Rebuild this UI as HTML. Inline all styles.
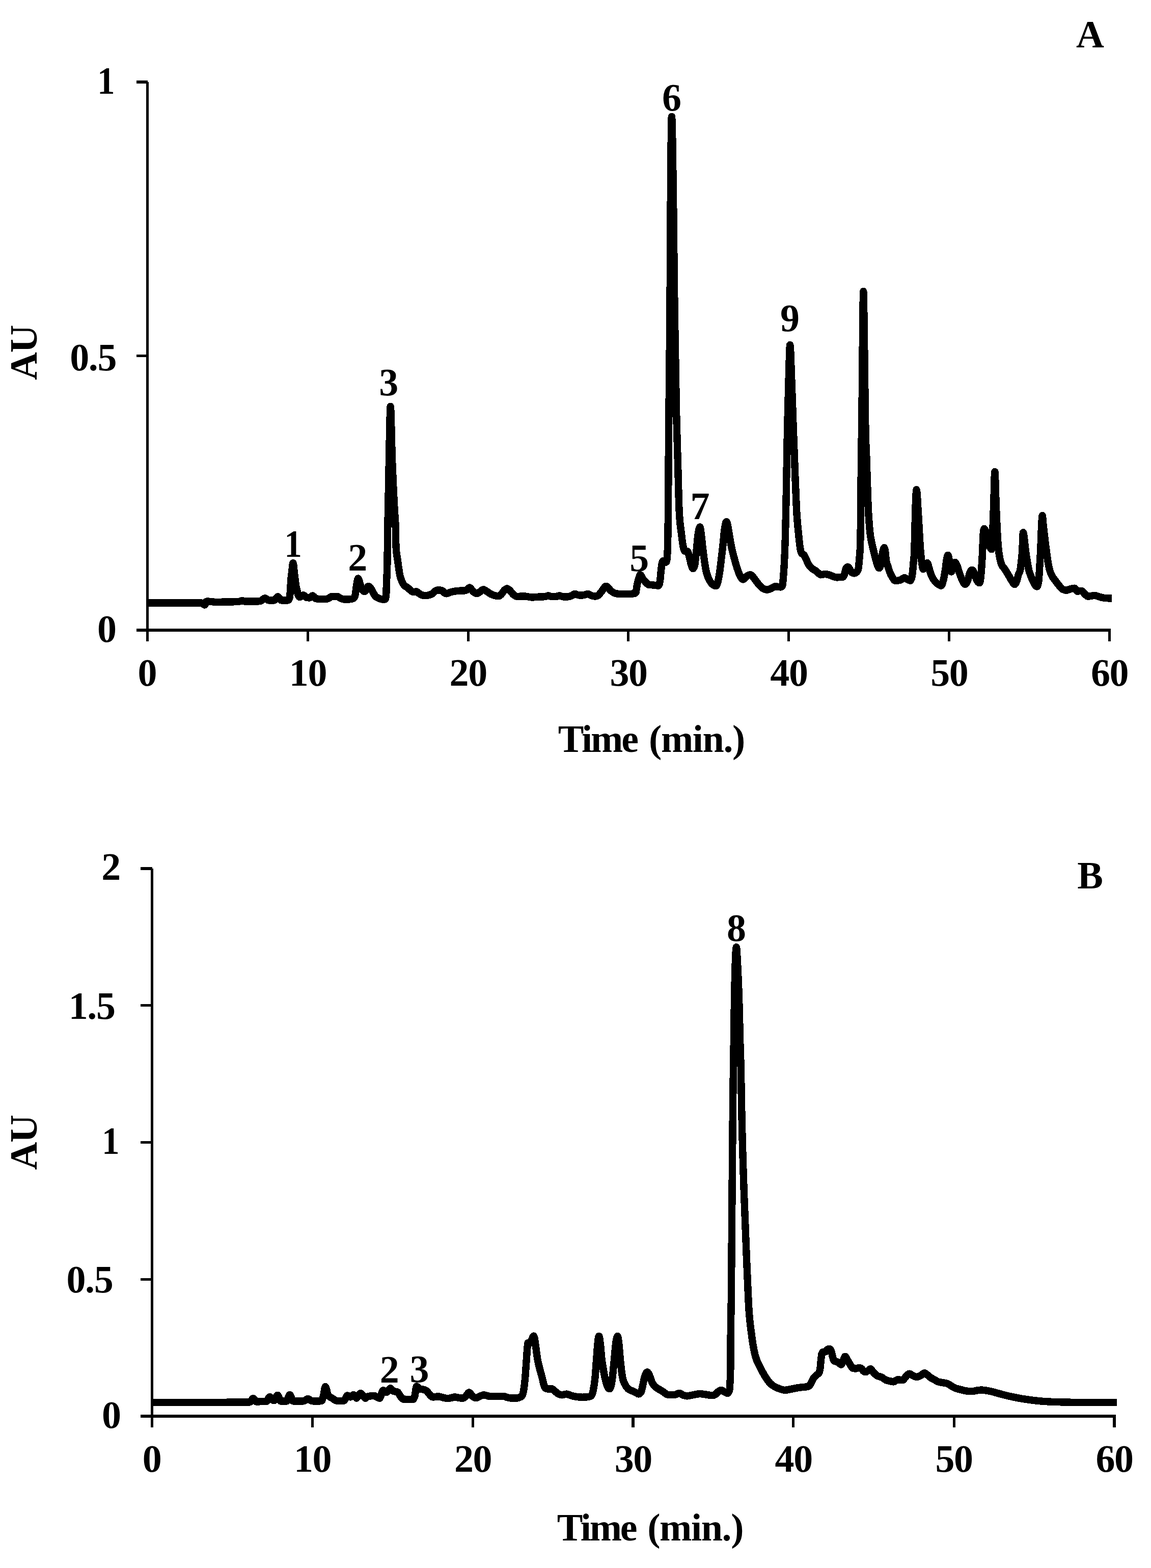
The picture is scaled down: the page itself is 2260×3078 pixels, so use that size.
<!DOCTYPE html>
<html lang="en">
<head>
<meta charset="utf-8">
<title>HPLC chromatograms A and B</title>
<style>
html,body{margin:0;padding:0;background:#fff;overflow:hidden;}
svg{display:block;}
text{font-family:"Liberation Serif",serif;font-weight:bold;font-size:76px;fill:#000;}
.ls{letter-spacing:-1.4px;}
.ax{fill:#000;stroke:none;shape-rendering:crispEdges;}
.cv{stroke:#000;fill:none;stroke-width:14.4;stroke-linejoin:round;stroke-linecap:butt;shape-rendering:crispEdges;}
</style>
</head>
<body>
<svg width="2260" height="3078" viewBox="0 0 2260 3078">
<rect x="0" y="0" width="2260" height="3078" fill="#fff"/>
<g id="chartA">
<rect class="ax" x="287" y="161" width="5" height="1098"/>
<rect class="ax" x="268" y="1234" width="1913" height="6"/>
<rect class="ax" x="602" y="1234" width="5" height="25"/>
<rect class="ax" x="917" y="1234" width="5" height="25"/>
<rect class="ax" x="1231" y="1234" width="5" height="25"/>
<rect class="ax" x="1546" y="1234" width="5" height="25"/>
<rect class="ax" x="1861" y="1234" width="5" height="25"/>
<rect class="ax" x="2176" y="1234" width="5" height="25"/>
<rect class="ax" x="268" y="158" width="22" height="6"/>
<rect class="ax" x="268" y="696" width="20" height="5"/>
<rect class="ax" x="268" y="1234" width="20" height="6"/>
<path class="cv" d="M290.0 1183.5C325.3 1183.5 360.7 1183.5 396.0 1183.5C397.0 1183.5 398.0 1183.8 399.0 1184.5C399.9 1185.1 400.9 1187.5 401.8 1187.5C403.0 1187.5 404.3 1180.6 405.5 1180.6C408.0 1180.6 410.5 1180.7 413.0 1180.8C416.5 1181.0 420.1 1181.9 423.6 1181.9C430.7 1181.9 437.9 1181.6 445.0 1181.5C452.3 1181.4 459.7 1181.4 467.0 1181.1C467.8 1181.1 468.7 1180.9 469.5 1180.8C471.4 1180.5 473.3 1179.1 475.2 1179.1C477.1 1179.1 479.1 1180.6 481.0 1180.6C485.7 1180.6 490.3 1180.3 495.0 1180.3C499.3 1180.3 503.7 1180.3 508.0 1180.3C509.5 1180.3 511.0 1180.0 512.5 1179.5C515.1 1178.6 517.6 1174.3 520.2 1174.3C522.6 1174.3 525.1 1178.2 527.5 1178.3C530.7 1178.4 533.8 1178.5 537.0 1178.5C537.8 1178.5 538.7 1178.3 539.5 1178.0C541.5 1177.2 543.6 1171.1 545.6 1171.1C547.7 1171.1 549.9 1178.2 552.0 1178.3C554.2 1178.4 556.5 1178.5 558.7 1178.5C560.8 1178.5 562.9 1178.5 565.0 1178.5C566.0 1178.5 567.0 1177.3 568.0 1175.0C568.7 1173.4 569.3 1169.9 570.0 1160.0C570.3 1155.5 570.6 1148.3 570.9 1143.6C571.6 1132.0 572.4 1128.1 573.1 1121.8C573.9 1115.2 574.6 1105.3 575.4 1105.3C576.4 1105.3 577.5 1121.3 578.5 1129.1C579.5 1136.4 580.4 1145.4 581.4 1150.9C582.1 1154.7 582.7 1156.8 583.4 1159.6C584.1 1162.5 584.8 1166.1 585.5 1168.0C586.5 1170.7 587.5 1172.0 588.5 1172.0C590.9 1172.0 593.2 1168.2 595.6 1168.2C597.9 1168.2 600.2 1172.7 602.5 1173.0C604.3 1173.3 606.2 1173.4 608.0 1173.4C609.9 1173.4 611.9 1169.4 613.8 1169.4C615.9 1169.4 617.9 1174.5 620.0 1175.0C621.8 1175.5 623.6 1175.7 625.4 1175.7C630.7 1175.7 636.1 1175.7 641.4 1175.7C642.9 1175.7 644.5 1174.7 646.0 1174.0C647.8 1173.1 649.7 1170.8 651.5 1170.8C654.9 1170.8 658.3 1170.8 661.7 1170.8C663.8 1170.8 665.9 1173.1 668.0 1174.0C670.0 1174.9 672.0 1176.1 674.0 1176.3C676.2 1176.5 678.4 1176.6 680.6 1176.6C683.7 1176.6 686.9 1176.4 690.0 1176.0C691.5 1175.8 693.0 1175.3 694.5 1174.0C695.4 1173.2 696.4 1172.1 697.3 1168.3C698.2 1164.6 699.1 1155.2 700.0 1150.0C701.0 1144.0 702.1 1135.5 703.1 1135.5C703.9 1135.5 704.7 1138.6 705.5 1141.0C706.2 1143.0 706.8 1145.9 707.5 1148.0C708.7 1151.6 709.8 1154.4 711.0 1156.5C712.7 1159.6 714.5 1161.1 716.2 1161.1C717.3 1161.1 718.4 1157.6 719.5 1156.0C720.8 1154.1 722.1 1150.8 723.4 1150.8C724.6 1150.8 725.8 1152.1 727.0 1153.5C728.0 1154.7 729.0 1156.5 730.0 1158.1C732.2 1161.6 734.3 1166.9 736.5 1169.7C739.2 1173.1 741.8 1173.6 744.5 1174.8C747.4 1176.1 750.3 1176.8 753.2 1176.8C754.3 1176.8 755.4 1176.5 756.5 1176.0C757.1 1175.7 757.7 1172.3 758.3 1165.0C758.5 1162.1 758.8 1150.6 759.0 1143.6C759.5 1128.6 760.0 1129.1 760.5 1100.0C760.7 1090.3 760.8 1073.3 761.0 1060.0C761.1 1052.0 761.2 1043.0 761.3 1036.0C761.6 1017.2 761.8 1012.6 762.1 1000.0C762.7 970.1 763.4 929.5 764.0 900.0C764.9 858.1 765.8 797.7 766.7 797.7C767.8 797.7 768.9 870.2 770.0 900.0C771.5 941.6 773.1 971.5 774.6 1000.0C775.3 1013.0 776.0 1012.0 776.7 1036.0C777.0 1045.1 777.2 1068.2 777.5 1072.6C778.6 1090.9 779.7 1091.7 780.8 1100.0C782.3 1111.1 783.7 1122.0 785.2 1129.1C786.9 1137.4 788.6 1140.0 790.3 1143.6C792.0 1147.2 793.7 1149.4 795.4 1150.8C796.5 1151.7 797.6 1151.6 798.7 1152.3C800.6 1153.5 802.6 1155.9 804.5 1157.4C806.9 1159.3 809.4 1162.2 811.8 1162.2C813.7 1162.2 815.7 1161.3 817.6 1161.3C820.0 1161.3 822.5 1165.2 824.9 1166.5C828.3 1168.3 831.6 1169.3 835.0 1169.3C837.9 1169.3 840.9 1168.6 843.8 1167.6C845.5 1167.0 847.3 1166.6 849.0 1165.5C851.1 1164.1 853.3 1160.3 855.4 1159.5C857.6 1158.7 859.8 1158.3 862.0 1158.3C864.2 1158.3 866.3 1158.7 868.5 1159.5C870.0 1160.1 871.5 1163.0 873.0 1164.0C874.0 1164.7 875.0 1165.4 876.0 1165.4C878.8 1165.4 881.6 1163.3 884.4 1162.5C890.7 1160.7 897.0 1160.0 903.3 1159.6C906.5 1159.4 909.8 1159.5 913.0 1159.3C914.2 1159.2 915.3 1158.6 916.5 1158.0C918.4 1157.0 920.3 1153.4 922.2 1153.4C924.1 1153.4 926.1 1158.1 928.0 1160.0C929.3 1161.3 930.7 1162.7 932.0 1163.5C933.6 1164.5 935.1 1165.1 936.7 1165.1C938.5 1165.1 940.2 1163.1 942.0 1162.0C944.4 1160.5 946.7 1157.3 949.1 1157.3C951.4 1157.3 953.7 1159.6 956.0 1161.0C958.8 1162.6 961.5 1165.0 964.3 1166.4C966.5 1167.5 968.8 1168.4 971.0 1169.0C973.6 1169.8 976.3 1170.3 978.9 1170.3C980.6 1170.3 982.3 1168.6 984.0 1167.0C986.0 1165.1 988.0 1161.0 990.0 1159.0C991.9 1157.2 993.7 1155.4 995.6 1155.4C997.4 1155.4 999.2 1157.4 1001.0 1159.0C1003.3 1161.0 1005.7 1165.0 1008.0 1167.0C1010.4 1169.0 1012.8 1170.8 1015.2 1170.8C1020.1 1170.8 1025.1 1170.5 1030.0 1170.5C1034.9 1170.5 1039.8 1172.5 1044.7 1172.5C1049.8 1172.5 1054.9 1171.7 1060.0 1171.5C1063.3 1171.4 1066.7 1171.4 1070.0 1171.2C1072.2 1171.1 1074.5 1169.4 1076.7 1169.4C1078.5 1169.4 1080.2 1170.8 1082.0 1171.0C1083.6 1171.2 1085.2 1171.3 1086.8 1171.3C1088.5 1171.3 1090.3 1171.2 1092.0 1171.0C1094.2 1170.8 1096.3 1169.4 1098.5 1169.4C1100.7 1169.4 1102.8 1171.1 1105.0 1171.3C1107.7 1171.5 1110.3 1171.6 1113.0 1171.6C1115.7 1171.6 1118.3 1170.9 1121.0 1170.0C1123.7 1169.1 1126.3 1166.0 1129.0 1166.0C1131.0 1166.0 1133.0 1167.6 1135.0 1168.0C1136.9 1168.4 1138.7 1168.6 1140.6 1168.6C1142.7 1168.6 1144.9 1168.4 1147.0 1168.0C1149.2 1167.6 1151.5 1166.0 1153.7 1166.0C1156.1 1166.0 1158.6 1168.2 1161.0 1169.0C1163.4 1169.7 1165.8 1170.5 1168.2 1170.5C1169.6 1170.5 1171.1 1170.3 1172.5 1170.0C1175.4 1169.3 1178.4 1164.2 1181.3 1161.0C1184.2 1157.8 1187.1 1150.8 1190.0 1150.8C1193.4 1150.8 1196.8 1157.8 1200.2 1160.3C1202.6 1162.0 1205.0 1163.7 1207.4 1164.5C1209.9 1165.4 1212.5 1165.8 1215.0 1165.8C1222.7 1165.8 1230.3 1165.8 1238.0 1165.8C1239.7 1165.8 1241.3 1165.7 1243.0 1165.5C1244.7 1165.3 1246.4 1165.0 1248.1 1163.9C1249.1 1163.3 1250.0 1152.5 1251.0 1147.9C1252.5 1140.9 1253.9 1136.4 1255.4 1132.0C1255.8 1130.7 1256.3 1128.3 1256.7 1128.3C1258.7 1128.3 1260.7 1134.2 1262.7 1136.8C1264.5 1139.1 1266.2 1141.2 1268.0 1143.0C1269.9 1144.9 1271.7 1147.4 1273.6 1147.7C1276.7 1148.2 1279.9 1148.2 1283.0 1148.5C1286.3 1148.8 1289.7 1149.6 1293.0 1149.6C1294.0 1149.6 1295.0 1146.4 1296.0 1140.0C1296.7 1135.7 1297.3 1125.8 1298.0 1120.0C1298.7 1114.2 1299.3 1107.1 1300.0 1105.0C1300.8 1102.3 1301.7 1101.0 1302.5 1101.0C1303.7 1101.0 1304.8 1104.0 1306.0 1104.0C1306.8 1104.0 1307.7 1103.7 1308.5 1103.0C1309.2 1102.5 1309.8 1097.0 1310.5 1085.0C1311.0 1076.0 1311.5 1056.7 1312.0 1000.0C1312.2 977.3 1312.4 937.9 1312.6 910.0C1312.8 877.5 1313.1 847.7 1313.3 821.0C1313.7 775.2 1314.1 750.8 1314.5 710.0C1314.8 676.0 1315.2 645.1 1315.5 600.0C1315.9 541.3 1316.4 438.1 1316.8 381.0C1317.5 288.8 1318.2 229.0 1318.9 229.0C1319.9 229.0 1321.0 308.3 1322.0 381.0C1322.8 439.7 1323.7 541.1 1324.5 600.0C1325.1 644.8 1325.8 674.1 1326.4 710.0C1327.1 747.8 1327.7 790.2 1328.4 821.0C1329.3 861.1 1330.1 879.6 1331.0 910.0C1331.8 939.3 1332.7 982.2 1333.5 1000.0C1335.0 1032.0 1336.5 1034.9 1338.0 1048.0C1339.1 1057.9 1340.3 1066.9 1341.4 1072.6C1342.6 1078.6 1343.8 1081.9 1345.0 1082.0C1346.6 1082.2 1348.3 1082.1 1349.9 1082.3C1351.3 1082.5 1352.6 1089.8 1354.0 1095.0C1355.0 1098.8 1356.0 1104.6 1357.0 1108.0C1358.3 1112.3 1359.5 1116.2 1360.8 1116.2C1361.9 1116.2 1362.9 1114.1 1364.0 1110.0C1365.0 1106.1 1366.0 1094.1 1367.0 1085.0C1368.2 1074.4 1369.3 1058.4 1370.5 1050.0C1371.8 1040.7 1373.1 1034.4 1374.4 1034.4C1375.3 1034.4 1376.1 1043.5 1377.0 1050.0C1377.8 1056.3 1378.7 1065.5 1379.5 1072.6C1380.7 1082.6 1381.8 1091.9 1383.0 1100.0C1384.2 1108.1 1385.3 1115.5 1386.5 1121.0C1388.0 1128.1 1389.5 1131.3 1391.0 1135.0C1393.0 1140.0 1395.0 1142.7 1397.0 1145.0C1399.9 1148.4 1402.8 1150.1 1405.7 1150.1C1407.1 1150.1 1408.6 1146.0 1410.0 1140.0C1411.1 1135.3 1412.3 1129.0 1413.4 1121.0C1414.4 1113.7 1415.5 1103.6 1416.5 1095.0C1417.4 1087.5 1418.3 1080.7 1419.2 1072.6C1420.3 1062.7 1421.4 1047.9 1422.5 1040.0C1423.8 1030.9 1425.0 1024.2 1426.3 1024.2C1427.2 1024.2 1428.1 1028.1 1429.0 1032.0C1429.9 1036.1 1430.9 1043.0 1431.8 1048.4C1433.2 1056.5 1434.6 1065.5 1436.0 1072.6C1438.0 1082.7 1440.0 1089.5 1442.0 1096.9C1444.4 1105.9 1446.9 1114.4 1449.3 1121.0C1450.9 1125.3 1452.4 1129.3 1454.0 1132.0C1455.7 1134.9 1457.3 1137.5 1459.0 1137.5C1461.0 1137.5 1463.0 1133.4 1465.0 1132.0C1467.8 1130.0 1470.6 1128.3 1473.4 1128.3C1476.8 1128.3 1480.2 1135.2 1483.6 1139.2C1486.5 1142.6 1489.4 1147.2 1492.3 1150.1C1495.2 1153.0 1498.1 1155.6 1501.0 1156.6C1502.9 1157.3 1504.9 1157.6 1506.8 1157.6C1509.2 1157.6 1511.7 1156.2 1514.1 1155.2C1516.5 1154.2 1519.0 1151.5 1521.4 1151.5C1523.3 1151.5 1525.3 1151.6 1527.2 1151.8C1529.1 1152.0 1531.1 1152.4 1533.0 1152.4C1534.1 1152.4 1535.2 1151.6 1536.3 1150.0C1536.9 1149.1 1537.5 1140.0 1538.1 1132.6C1538.7 1124.8 1539.4 1116.7 1540.0 1103.6C1540.6 1091.8 1541.1 1078.9 1541.7 1060.0C1542.2 1043.4 1542.7 1023.5 1543.2 1000.0C1543.8 971.8 1544.4 933.0 1545.0 900.0C1545.4 879.9 1545.7 858.0 1546.1 840.0C1546.9 800.6 1547.7 776.0 1548.5 750.0C1549.4 720.7 1550.3 677.2 1551.2 677.2C1552.3 677.2 1553.4 722.3 1554.5 750.0C1555.6 776.8 1556.6 811.3 1557.7 840.0C1558.5 860.7 1559.2 880.3 1560.0 900.0C1561.3 934.3 1562.7 975.3 1564.0 1000.0C1565.3 1024.7 1566.7 1034.7 1568.0 1048.4C1569.0 1058.7 1570.0 1068.7 1571.0 1075.0C1572.0 1081.3 1573.0 1084.5 1574.0 1086.0C1575.6 1088.4 1577.2 1087.3 1578.8 1089.6C1580.2 1091.6 1581.6 1095.0 1583.0 1098.0C1584.3 1100.8 1585.7 1104.5 1587.0 1107.0C1588.7 1110.1 1590.3 1111.9 1592.0 1113.8C1595.3 1117.5 1598.5 1118.0 1601.8 1120.6C1603.5 1122.0 1605.3 1123.6 1607.0 1125.0C1608.5 1126.2 1610.0 1128.3 1611.5 1128.3C1614.3 1128.3 1617.2 1127.0 1620.0 1127.0C1623.7 1127.0 1627.3 1128.2 1631.0 1129.5C1633.0 1130.2 1635.0 1131.3 1637.0 1132.0C1639.0 1132.7 1641.0 1133.4 1643.0 1133.4C1647.0 1133.4 1651.0 1133.2 1655.0 1132.7C1656.0 1132.6 1657.0 1130.8 1658.0 1128.0C1659.0 1125.2 1660.0 1117.8 1661.0 1116.0C1662.3 1113.7 1663.5 1112.6 1664.8 1112.6C1666.2 1112.6 1667.6 1116.0 1669.0 1118.0C1670.3 1119.9 1671.7 1123.0 1673.0 1124.0C1674.3 1124.9 1675.6 1125.4 1676.9 1125.4C1678.6 1125.4 1680.3 1124.6 1682.0 1123.0C1683.1 1121.9 1684.3 1120.7 1685.4 1116.0C1686.1 1113.1 1686.8 1104.0 1687.5 1095.0C1688.0 1088.6 1688.5 1087.5 1689.0 1072.6C1689.4 1060.7 1689.8 1039.7 1690.2 1000.0C1690.5 973.5 1690.7 925.4 1691.0 900.0C1691.4 865.0 1691.7 867.3 1692.1 840.0C1692.6 805.2 1693.0 740.8 1693.5 700.0C1694.1 647.6 1694.7 571.9 1695.3 571.9C1696.0 571.9 1696.8 651.2 1697.5 700.0C1698.1 742.1 1698.8 806.9 1699.4 840.0C1700.1 876.6 1700.8 879.5 1701.5 900.0C1702.5 929.3 1703.5 967.5 1704.5 990.8C1705.7 1019.5 1707.0 1032.5 1708.2 1045.0C1709.3 1056.1 1710.4 1059.2 1711.5 1065.0C1712.8 1071.8 1714.1 1076.2 1715.4 1081.6C1716.9 1087.9 1718.5 1094.9 1720.0 1100.0C1722.1 1107.0 1724.2 1115.2 1726.3 1115.2C1727.5 1115.2 1728.8 1111.1 1730.0 1105.0C1731.0 1100.1 1732.0 1089.9 1733.0 1085.0C1734.1 1079.6 1735.2 1075.2 1736.3 1075.2C1737.0 1075.2 1737.8 1079.4 1738.5 1085.0C1739.0 1088.8 1739.5 1096.2 1740.0 1099.7C1741.2 1107.9 1742.3 1108.1 1743.5 1112.0C1744.7 1116.1 1746.0 1120.2 1747.2 1123.4C1748.8 1127.6 1750.4 1130.4 1752.0 1133.0C1754.0 1136.3 1756.0 1140.0 1758.0 1140.0C1761.1 1140.0 1764.1 1139.6 1767.2 1138.8C1768.8 1138.4 1770.4 1136.8 1772.0 1136.0C1773.4 1135.3 1774.9 1134.2 1776.3 1134.2C1777.9 1134.2 1779.4 1136.2 1781.0 1137.0C1783.1 1138.1 1785.1 1139.7 1787.2 1139.7C1788.5 1139.7 1789.7 1136.5 1791.0 1130.0C1791.8 1125.7 1792.7 1114.8 1793.5 1105.0C1794.1 1098.0 1794.7 1097.2 1795.3 1081.6C1795.9 1066.0 1796.5 1027.9 1797.1 1009.0C1797.9 983.7 1798.7 961.2 1799.5 961.2C1800.7 961.2 1801.9 991.3 1803.1 1009.0C1804.6 1030.6 1806.0 1064.1 1807.5 1081.6C1808.3 1091.6 1809.2 1099.1 1810.0 1105.0C1810.9 1111.2 1811.7 1117.4 1812.6 1117.4C1813.7 1117.4 1814.9 1111.9 1816.0 1110.0C1817.6 1107.3 1819.2 1105.2 1820.8 1105.2C1821.9 1105.2 1822.9 1110.6 1824.0 1114.0C1825.0 1117.3 1826.1 1122.1 1827.1 1125.2C1828.4 1129.1 1829.7 1131.5 1831.0 1134.0C1832.4 1136.7 1833.9 1138.8 1835.3 1140.6C1837.2 1143.0 1839.1 1144.6 1841.0 1146.0C1843.3 1147.8 1845.7 1149.7 1848.0 1149.7C1849.3 1149.7 1850.7 1145.1 1852.0 1140.0C1853.4 1134.7 1854.8 1127.5 1856.2 1117.9C1857.0 1112.6 1857.7 1104.6 1858.5 1100.0C1859.4 1094.7 1860.3 1089.8 1861.2 1089.8C1862.1 1089.8 1863.1 1094.5 1864.0 1100.0C1864.7 1103.9 1865.3 1111.3 1866.0 1115.0C1866.7 1118.7 1867.3 1122.4 1868.0 1122.4C1869.0 1122.4 1870.0 1114.8 1871.0 1112.0C1872.4 1108.0 1873.8 1103.9 1875.2 1103.9C1876.5 1103.9 1877.7 1107.1 1879.0 1110.0C1880.5 1113.3 1881.9 1119.2 1883.4 1123.4C1885.3 1128.7 1887.1 1134.2 1889.0 1138.0C1891.1 1142.3 1893.1 1147.0 1895.2 1147.0C1896.8 1147.0 1898.4 1144.3 1900.0 1140.0C1901.3 1136.4 1902.7 1128.4 1904.0 1125.0C1905.6 1120.9 1907.2 1118.8 1908.8 1118.8C1910.5 1118.8 1912.3 1124.0 1914.0 1128.0C1915.3 1131.1 1916.7 1136.4 1918.0 1139.0C1919.8 1142.5 1921.6 1144.2 1923.4 1144.2C1924.4 1144.2 1925.5 1136.9 1926.5 1125.0C1927.4 1114.7 1928.3 1101.1 1929.2 1081.6C1929.6 1072.2 1930.1 1055.5 1930.5 1050.0C1931.1 1042.0 1931.8 1038.0 1932.4 1038.0C1933.6 1038.0 1934.8 1041.6 1936.0 1045.0C1937.3 1048.7 1938.7 1055.0 1940.0 1060.0C1941.2 1064.4 1942.3 1070.0 1943.5 1073.0C1944.7 1076.0 1945.8 1078.3 1947.0 1078.3C1947.7 1078.3 1948.3 1064.0 1949.0 1050.0C1949.7 1035.3 1950.4 1010.5 1951.1 990.8C1951.9 969.2 1952.6 926.2 1953.4 926.2C1954.2 926.2 1955.0 971.3 1955.8 990.8C1957.0 1019.3 1958.1 1045.7 1959.3 1063.4C1960.9 1087.2 1962.4 1091.7 1964.0 1099.7C1965.3 1106.5 1966.7 1108.2 1968.0 1111.0C1969.5 1114.1 1971.0 1114.4 1972.5 1116.5C1973.7 1118.2 1974.8 1120.1 1976.0 1122.0C1977.3 1124.2 1978.7 1126.5 1980.0 1128.8C1982.0 1132.2 1984.0 1136.1 1986.0 1139.0C1988.2 1142.2 1990.3 1147.0 1992.5 1147.0C1993.8 1147.0 1995.2 1143.7 1996.5 1140.0C1997.7 1136.7 1998.8 1130.5 2000.0 1127.0C2001.0 1124.0 2002.0 1124.7 2003.0 1120.0C2003.7 1116.9 2004.3 1111.0 2005.0 1105.0C2005.7 1098.4 2006.5 1093.2 2007.2 1081.6C2007.8 1072.1 2008.4 1045.3 2009.0 1045.3C2009.8 1045.3 2010.7 1053.8 2011.5 1060.0C2012.3 1066.0 2013.1 1075.2 2013.9 1081.6C2014.9 1089.8 2016.0 1095.8 2017.0 1102.0C2018.0 1107.8 2018.9 1113.5 2019.9 1117.9C2021.6 1125.7 2023.3 1128.6 2025.0 1133.0C2026.7 1137.3 2028.3 1141.1 2030.0 1144.0C2032.1 1147.6 2034.1 1151.5 2036.2 1151.5C2037.3 1151.5 2038.4 1147.7 2039.5 1140.0C2040.2 1135.4 2040.8 1121.0 2041.5 1110.0C2042.0 1101.2 2042.6 1092.8 2043.1 1081.6C2043.7 1069.7 2044.2 1051.4 2044.8 1040.0C2045.4 1027.9 2046.0 1012.2 2046.6 1012.2C2047.2 1012.2 2047.9 1024.2 2048.5 1030.0C2049.1 1035.2 2049.6 1040.3 2050.2 1045.3C2051.7 1058.4 2053.2 1070.2 2054.7 1081.6C2055.6 1088.7 2056.6 1096.2 2057.5 1102.0C2058.6 1108.6 2059.6 1113.6 2060.7 1117.9C2062.5 1125.0 2064.2 1127.4 2066.0 1131.0C2068.5 1136.0 2070.9 1138.2 2073.4 1141.5C2075.6 1144.5 2077.8 1147.5 2080.0 1150.0C2082.3 1152.7 2084.7 1155.8 2087.0 1157.0C2089.4 1158.2 2091.9 1158.8 2094.3 1158.8C2096.9 1158.8 2099.4 1156.7 2102.0 1156.0C2104.6 1155.3 2107.2 1154.6 2109.8 1154.6C2111.6 1154.6 2113.4 1160.6 2115.2 1160.6C2117.9 1160.6 2120.7 1159.7 2123.4 1159.7C2125.6 1159.7 2127.8 1164.1 2130.0 1166.0C2132.0 1167.7 2134.1 1170.6 2136.1 1170.6C2138.1 1170.6 2140.0 1170.3 2142.0 1170.0C2144.3 1169.7 2146.5 1168.7 2148.8 1168.7C2151.5 1168.7 2154.3 1170.2 2157.0 1171.0C2159.7 1171.8 2162.4 1172.8 2165.1 1173.3C2168.4 1174.0 2171.7 1174.1 2175.0 1174.3C2177.6 1174.5 2180.3 1174.6 2182.9 1174.7"/>
<text transform="translate(225.6,183.8) scale(0.91,1)" text-anchor="end">1</text>
<text x="228.0" y="726.5" text-anchor="end" class="ls">0.5</text>
<text x="229.0" y="1259.5" text-anchor="end">0</text>
<text x="289.5" y="1345.7" text-anchor="middle">0</text>
<text x="604.4" y="1345.7" text-anchor="middle" class="ls">10</text>
<text x="919.2" y="1345.7" text-anchor="middle" class="ls">20</text>
<text x="1234.1" y="1345.7" text-anchor="middle" class="ls">30</text>
<text x="1548.9" y="1345.7" text-anchor="middle" class="ls">40</text>
<text x="1863.8" y="1345.7" text-anchor="middle" class="ls">50</text>
<text x="2178.6" y="1345.7" text-anchor="middle" class="ls">60</text>
<text x="1095.8" y="1476.4"><tspan letter-spacing="-3.1">Time</tspan><tspan letter-spacing="4.1"> </tspan><tspan letter-spacing="-1.4">(min.)</tspan></text>
<text class="ls" text-anchor="middle" transform="translate(72.3,692.5) rotate(-90)">AU</text>
<text x="2140.5" y="93.0" text-anchor="middle">A</text>
<text transform="translate(575.5,1093.4) scale(0.91,1)" text-anchor="middle">1</text>
<text x="702.3" y="1120.2" text-anchor="middle">2</text>
<text x="763.2" y="776.4" text-anchor="middle">3</text>
<text x="1255.2" y="1121.0" text-anchor="middle">5</text>
<text x="1318.9" y="216.5" text-anchor="middle">6</text>
<text x="1374.4" y="1018.9" text-anchor="middle">7</text>
<text x="1551.0" y="649.7" text-anchor="middle">9</text>
</g>
<g id="chartB">
<rect class="ax" x="296" y="1705" width="5" height="1097"/>
<rect class="ax" x="276" y="2777" width="1915" height="6"/>
<rect class="ax" x="611" y="2777" width="5" height="25"/>
<rect class="ax" x="926" y="2777" width="5" height="25"/>
<rect class="ax" x="1240" y="2777" width="6" height="25"/>
<rect class="ax" x="1555" y="2777" width="5" height="25"/>
<rect class="ax" x="1871" y="2777" width="5" height="25"/>
<rect class="ax" x="2185" y="2777" width="6" height="25"/>
<rect class="ax" x="276" y="1702" width="23" height="6"/>
<rect class="ax" x="276" y="1971" width="21" height="5"/>
<rect class="ax" x="276" y="2240" width="21" height="5"/>
<rect class="ax" x="276" y="2509" width="21" height="5"/>
<rect class="ax" x="276" y="2777" width="21" height="6"/>
<path class="cv" d="M299.0 2753.0C359.3 2752.9 419.7 2752.9 480.0 2752.6C483.5 2752.6 487.0 2752.5 490.5 2752.3C492.7 2752.2 494.8 2745.0 497.0 2745.0C499.2 2745.0 501.3 2751.6 503.5 2751.6C506.3 2751.6 509.2 2751.3 512.0 2751.2C515.7 2751.0 519.3 2751.1 523.0 2750.8C525.2 2750.6 527.5 2742.1 529.7 2742.1C531.8 2742.1 533.9 2747.7 536.0 2748.5C536.8 2748.8 537.7 2749.0 538.5 2749.0C540.7 2749.0 542.8 2738.8 545.0 2738.8C547.2 2738.8 549.3 2750.5 551.5 2750.5C555.2 2750.5 558.8 2750.5 562.5 2750.5C564.7 2750.5 566.8 2738.1 569.0 2738.1C571.2 2738.1 573.3 2750.2 575.5 2750.3C578.7 2750.4 581.8 2750.5 585.0 2750.5C588.7 2750.5 592.3 2750.4 596.0 2750.3C598.9 2750.2 601.7 2746.0 604.6 2746.0C607.4 2746.0 610.2 2750.2 613.0 2750.3C617.3 2750.4 621.7 2750.5 626.0 2750.5C627.8 2750.5 629.7 2750.3 631.5 2750.0C632.7 2749.8 633.8 2744.5 635.0 2740.0C636.2 2735.3 637.5 2722.1 638.7 2722.1C639.5 2722.1 640.2 2724.7 641.0 2727.0C641.8 2729.5 642.7 2734.9 643.5 2737.0C644.7 2740.0 645.8 2740.3 647.0 2741.5C648.7 2743.2 650.3 2743.5 652.0 2744.5C654.3 2745.9 656.7 2748.1 659.0 2749.0C660.5 2749.6 661.9 2749.9 663.4 2750.0C666.3 2750.1 669.1 2750.2 672.0 2750.2C673.3 2750.2 674.7 2749.8 676.0 2749.0C678.1 2747.7 680.2 2739.2 682.3 2739.2C684.2 2739.2 686.1 2742.5 688.0 2742.5C690.0 2742.5 691.9 2738.1 693.9 2738.1C695.0 2738.1 696.2 2738.6 697.3 2739.5C698.3 2740.3 699.2 2744.7 700.2 2744.7C701.2 2744.7 702.2 2740.9 703.2 2739.5C704.9 2737.2 706.5 2735.2 708.2 2735.2C710.0 2735.2 711.7 2738.7 713.5 2740.5C714.9 2741.9 716.2 2744.7 717.6 2744.7C718.9 2744.7 720.2 2742.0 721.5 2741.5C723.3 2740.8 725.2 2740.7 727.0 2740.5C729.7 2740.2 732.3 2740.0 735.0 2740.0C736.7 2740.0 738.3 2741.7 740.0 2742.5C741.7 2743.3 743.5 2744.7 745.2 2744.7C747.6 2744.7 750.1 2729.3 752.5 2729.3C754.7 2729.3 756.8 2733.0 759.0 2733.0C761.4 2733.0 763.9 2725.3 766.3 2725.3C768.5 2725.3 770.8 2730.2 773.0 2731.0C775.4 2731.9 777.7 2731.4 780.1 2732.3C782.4 2733.1 784.7 2739.4 787.0 2742.0C788.6 2743.8 790.1 2746.4 791.7 2746.5C794.5 2746.7 797.2 2746.8 800.0 2746.8C803.7 2746.8 807.3 2746.8 811.0 2746.8C812.2 2746.8 813.3 2744.4 814.5 2740.0C815.6 2735.8 816.8 2721.3 817.9 2721.3C819.9 2721.3 822.0 2726.0 824.0 2726.5C825.8 2727.0 827.7 2726.8 829.5 2727.2C832.4 2727.9 835.3 2728.4 838.2 2730.9C840.1 2732.5 842.1 2736.1 844.0 2738.0C845.9 2739.9 847.9 2742.5 849.8 2742.5C853.2 2742.5 856.6 2741.3 860.0 2741.3C863.3 2741.3 866.7 2742.8 870.0 2743.5C873.0 2744.1 875.9 2745.1 878.9 2745.1C881.3 2745.1 883.6 2744.4 886.0 2744.0C888.5 2743.5 890.9 2742.4 893.4 2742.4C895.9 2742.4 898.5 2743.6 901.0 2744.0C903.6 2744.4 906.1 2744.7 908.7 2744.7C910.6 2744.7 912.6 2742.7 914.5 2741.0C916.7 2739.1 918.9 2733.4 921.1 2733.4C923.4 2733.4 925.7 2739.2 928.0 2741.0C930.3 2742.8 932.6 2744.2 934.9 2744.2C937.3 2744.2 939.6 2742.0 942.0 2741.0C944.5 2740.0 946.9 2738.3 949.4 2738.3C953.3 2738.3 957.1 2740.7 961.0 2740.7C969.7 2740.7 978.3 2740.7 987.0 2740.7C991.9 2740.7 996.8 2744.4 1001.7 2744.4C1006.5 2744.4 1011.4 2744.4 1016.2 2744.4C1016.9 2744.4 1017.5 2744.0 1018.2 2743.8C1020.1 2743.1 1022.1 2742.9 1024.0 2741.0C1025.3 2739.7 1026.7 2737.3 1028.0 2730.0C1029.1 2724.1 1030.1 2716.3 1031.2 2704.2C1032.1 2694.4 1032.9 2679.7 1033.8 2667.9C1034.4 2660.2 1034.9 2650.5 1035.5 2645.0C1035.9 2640.8 1036.4 2636.0 1036.8 2636.0C1038.0 2636.0 1039.1 2637.0 1040.3 2637.0C1041.5 2637.0 1042.8 2632.3 1044.0 2630.0C1045.4 2627.5 1046.7 2622.5 1048.1 2622.5C1049.2 2622.5 1050.4 2633.1 1051.5 2640.0C1052.8 2647.9 1054.1 2660.3 1055.4 2667.9C1056.9 2676.9 1058.5 2681.9 1060.0 2688.0C1061.5 2694.0 1063.0 2698.4 1064.5 2704.2C1065.7 2708.9 1066.9 2715.4 1068.1 2719.0C1069.1 2721.9 1070.0 2724.2 1071.0 2725.0C1072.2 2725.9 1073.3 2726.4 1074.5 2726.4C1077.5 2726.4 1080.5 2726.4 1083.5 2726.4C1085.0 2726.4 1086.5 2728.4 1088.0 2729.5C1089.8 2730.9 1091.7 2732.9 1093.5 2734.2C1095.0 2735.3 1096.5 2736.3 1098.0 2737.0C1099.8 2737.8 1101.7 2738.4 1103.5 2738.4C1106.5 2738.4 1109.6 2736.5 1112.6 2736.5C1115.1 2736.5 1117.5 2738.2 1120.0 2739.0C1122.4 2739.7 1124.7 2740.6 1127.1 2741.1C1132.6 2742.2 1138.0 2742.7 1143.5 2742.7C1147.7 2742.7 1152.0 2742.5 1156.2 2742.0C1157.8 2741.8 1159.4 2741.3 1161.0 2740.0C1162.3 2738.9 1163.7 2734.7 1165.0 2728.0C1166.2 2722.1 1167.3 2716.5 1168.5 2704.2C1169.4 2694.7 1170.3 2679.8 1171.2 2667.9C1172.0 2657.8 1172.7 2645.4 1173.5 2638.0C1174.4 2629.7 1175.2 2623.0 1176.1 2623.0C1177.1 2623.0 1178.0 2631.9 1179.0 2640.0C1179.9 2647.3 1180.7 2660.2 1181.6 2667.9C1182.7 2678.0 1183.9 2683.4 1185.0 2690.0C1186.3 2697.3 1187.5 2703.8 1188.8 2709.0C1190.0 2714.1 1191.3 2718.1 1192.5 2721.0C1194.0 2724.5 1195.5 2726.4 1197.0 2726.4C1198.0 2726.4 1199.0 2724.3 1200.0 2720.0C1200.8 2716.4 1201.7 2710.8 1202.5 2704.2C1203.7 2694.8 1204.9 2680.2 1206.1 2667.9C1207.1 2658.0 1208.0 2645.3 1209.0 2638.0C1210.2 2629.2 1211.3 2623.0 1212.5 2623.0C1213.5 2623.0 1214.5 2631.0 1215.5 2640.0C1216.3 2647.2 1217.1 2659.6 1217.9 2667.9C1219.4 2683.5 1220.9 2696.1 1222.4 2704.2C1224.2 2714.1 1226.1 2715.3 1227.9 2719.0C1229.6 2722.4 1231.3 2724.3 1233.0 2726.0C1235.2 2728.3 1237.5 2728.5 1239.7 2729.6C1242.1 2730.8 1244.6 2731.8 1247.0 2733.0C1249.4 2734.1 1251.8 2736.5 1254.2 2736.5C1255.8 2736.5 1257.4 2735.0 1259.0 2732.0C1260.3 2729.5 1261.7 2720.7 1263.0 2715.0C1264.0 2710.7 1265.0 2705.4 1266.0 2702.0C1267.6 2696.6 1269.2 2693.3 1270.8 2693.3C1272.0 2693.3 1273.3 2695.5 1274.5 2698.0C1275.3 2699.7 1276.1 2702.1 1276.9 2704.2C1278.1 2707.4 1279.3 2711.4 1280.5 2714.0C1282.0 2717.3 1283.6 2718.8 1285.1 2720.6C1286.9 2722.7 1288.8 2723.8 1290.6 2725.1C1293.7 2727.4 1296.9 2728.7 1300.0 2730.5C1304.1 2732.9 1308.2 2738.0 1312.3 2738.0C1316.2 2738.0 1320.1 2738.0 1324.0 2738.0C1327.4 2738.0 1330.7 2734.8 1334.1 2734.8C1336.4 2734.8 1338.7 2737.6 1341.0 2738.5C1343.6 2739.5 1346.1 2740.4 1348.7 2740.4C1353.1 2740.4 1357.6 2738.7 1362.0 2738.0C1366.1 2737.3 1370.1 2736.1 1374.2 2736.1C1378.1 2736.1 1382.1 2737.0 1386.0 2737.5C1390.1 2738.0 1394.3 2739.2 1398.4 2739.2C1400.6 2739.2 1402.8 2738.5 1405.0 2737.0C1406.7 2735.9 1408.3 2733.3 1410.0 2732.0C1412.2 2730.3 1414.4 2728.8 1416.6 2728.8C1418.4 2728.8 1420.2 2731.1 1422.0 2732.0C1424.2 2733.2 1426.5 2734.9 1428.7 2734.9C1429.8 2734.9 1430.9 2733.3 1432.0 2730.0C1432.8 2727.7 1433.5 2717.9 1434.3 2693.7C1434.4 2689.5 1434.6 2637.3 1434.7 2621.0C1435.0 2580.3 1435.4 2587.5 1435.7 2560.0C1436.3 2510.5 1436.9 2412.4 1437.5 2341.6C1438.0 2286.5 1438.4 2224.1 1438.9 2180.0C1439.3 2145.3 1439.6 2118.5 1440.0 2094.0C1440.2 2078.4 1440.5 2067.1 1440.7 2052.4C1441.1 2025.1 1441.6 1986.5 1442.0 1961.6C1442.6 1927.1 1443.2 1906.0 1443.8 1889.0C1444.5 1870.2 1445.1 1859.3 1445.8 1859.3C1446.5 1859.3 1447.3 1876.1 1448.0 1889.0C1449.0 1907.2 1450.1 1927.9 1451.1 1961.6C1451.9 1986.6 1452.6 2025.8 1453.4 2052.4C1453.8 2067.4 1454.3 2075.9 1454.7 2094.0C1455.2 2116.3 1455.8 2153.9 1456.3 2180.0C1457.8 2255.0 1459.4 2294.2 1460.9 2341.6C1463.0 2406.5 1465.1 2451.2 1467.2 2500.0C1468.1 2520.9 1469.0 2543.8 1469.9 2560.5C1471.9 2597.7 1473.9 2604.9 1475.9 2621.0C1477.9 2637.4 1480.0 2648.6 1482.0 2657.4C1483.2 2662.6 1484.4 2666.0 1485.6 2669.5C1487.7 2675.7 1489.9 2678.7 1492.0 2683.0C1494.3 2687.6 1496.6 2692.1 1498.9 2696.1C1500.9 2699.7 1503.0 2703.0 1505.0 2706.0C1507.4 2709.6 1509.8 2713.0 1512.2 2715.5C1514.8 2718.2 1517.4 2719.9 1520.0 2721.5C1523.3 2723.6 1526.7 2724.8 1530.0 2726.0C1533.8 2727.3 1537.5 2728.8 1541.3 2728.8C1545.9 2728.8 1550.4 2727.3 1555.0 2726.5C1559.3 2725.7 1563.6 2724.7 1567.9 2724.0C1574.4 2722.9 1580.8 2723.2 1587.3 2721.5C1588.9 2721.1 1590.4 2718.5 1592.0 2716.0C1593.7 2713.3 1595.3 2708.5 1597.0 2705.8C1599.4 2701.9 1601.8 2700.8 1604.2 2698.5C1605.5 2697.3 1606.7 2697.3 1608.0 2695.0C1608.8 2693.5 1609.7 2691.6 1610.5 2685.0C1611.0 2681.0 1611.5 2674.0 1612.0 2669.5C1612.5 2665.0 1613.0 2659.5 1613.5 2658.0C1614.4 2655.2 1615.4 2653.9 1616.3 2653.8C1617.9 2653.6 1619.4 2653.7 1621.0 2653.5C1622.0 2653.4 1623.0 2650.3 1624.0 2649.5C1625.5 2648.3 1627.0 2647.7 1628.5 2647.7C1629.7 2647.7 1630.8 2649.1 1632.0 2652.0C1633.1 2654.6 1634.1 2661.1 1635.2 2664.6C1636.0 2667.1 1636.7 2670.4 1637.5 2671.0C1639.3 2672.4 1641.2 2672.3 1643.0 2673.1C1644.3 2673.7 1645.7 2674.1 1647.0 2675.0C1648.5 2676.0 1650.0 2678.7 1651.5 2678.7C1652.8 2678.7 1654.2 2674.7 1655.5 2672.0C1656.8 2669.4 1658.1 2662.7 1659.4 2662.7C1660.9 2662.7 1662.5 2667.6 1664.0 2670.0C1665.7 2672.7 1667.3 2675.4 1669.0 2678.0C1670.8 2680.8 1672.7 2685.7 1674.5 2686.0C1676.3 2686.3 1678.2 2686.5 1680.0 2686.5C1682.2 2686.5 1684.4 2685.2 1686.6 2685.2C1688.1 2685.2 1689.5 2685.5 1691.0 2686.0C1692.3 2686.5 1693.7 2689.8 1695.0 2691.0C1696.6 2692.5 1698.3 2693.2 1699.9 2693.2C1701.3 2693.2 1702.6 2691.8 1704.0 2691.0C1705.8 2689.9 1707.5 2687.2 1709.3 2687.2C1711.2 2687.2 1713.1 2692.0 1715.0 2694.0C1717.3 2696.4 1719.5 2698.7 1721.8 2700.2C1724.8 2702.3 1727.9 2702.0 1730.9 2703.5C1733.9 2705.0 1737.0 2708.0 1740.0 2709.3C1742.3 2710.3 1744.7 2710.5 1747.0 2711.0C1749.5 2711.6 1752.0 2712.5 1754.5 2712.5C1756.0 2712.5 1757.5 2710.7 1759.0 2710.0C1760.5 2709.2 1762.1 2708.0 1763.6 2708.0C1765.1 2708.0 1766.5 2708.8 1768.0 2709.0C1769.5 2709.2 1771.1 2709.3 1772.6 2709.3C1774.4 2709.3 1776.2 2704.9 1778.0 2703.0C1780.4 2700.5 1782.9 2696.6 1785.3 2696.6C1787.5 2696.6 1789.8 2699.0 1792.0 2700.0C1794.6 2701.2 1797.3 2702.9 1799.9 2702.9C1802.6 2702.9 1805.3 2701.4 1808.0 2700.0C1810.4 2698.8 1812.9 2695.3 1815.3 2695.3C1817.2 2695.3 1819.1 2697.6 1821.0 2699.0C1823.0 2700.5 1825.1 2702.6 1827.1 2704.0C1829.4 2705.6 1831.7 2706.7 1834.0 2708.0C1836.5 2709.4 1839.1 2711.2 1841.6 2712.2C1844.4 2713.3 1847.2 2713.4 1850.0 2714.0C1853.3 2714.7 1856.5 2714.6 1859.8 2715.8C1862.2 2716.7 1864.6 2718.6 1867.0 2720.0C1869.4 2721.4 1871.9 2723.1 1874.3 2724.3C1878.5 2726.3 1882.8 2726.9 1887.0 2728.0C1891.2 2729.1 1895.5 2730.5 1899.7 2730.7C1903.1 2730.9 1906.6 2731.0 1910.0 2731.0C1912.7 2731.0 1915.3 2729.9 1918.0 2729.5C1921.0 2729.0 1924.0 2728.5 1927.0 2728.5C1930.0 2728.5 1933.0 2729.1 1936.0 2729.5C1939.0 2730.0 1942.1 2730.5 1945.1 2731.2C1948.1 2731.9 1951.0 2732.7 1954.0 2733.5C1957.1 2734.3 1960.2 2735.3 1963.3 2736.1C1969.4 2737.7 1975.4 2739.3 1981.5 2740.7C1989.4 2742.5 1997.4 2744.1 2005.3 2745.5C2013.5 2746.9 2021.8 2748.0 2030.0 2749.0C2037.9 2749.9 2045.8 2750.7 2053.7 2751.2C2069.8 2752.2 2085.9 2752.5 2102.0 2752.7C2118.0 2752.9 2134.0 2753.0 2150.0 2753.0C2164.3 2753.0 2178.6 2753.0 2192.9 2753.0"/>
<text x="237.3" y="1726.8" text-anchor="end">2</text>
<text x="225.5" y="1999.8" text-anchor="end" class="ls">1.5</text>
<text transform="translate(234.5,2265.3) scale(0.91,1)" text-anchor="end">1</text>
<text x="221.3" y="2536.8" text-anchor="end" class="ls">0.5</text>
<text x="238.0" y="2803.0" text-anchor="end">0</text>
<text x="298.7" y="2888.7" text-anchor="middle">0</text>
<text x="613.6" y="2888.7" text-anchor="middle" class="ls">10</text>
<text x="928.5" y="2888.7" text-anchor="middle" class="ls">20</text>
<text x="1243.3" y="2888.7" text-anchor="middle" class="ls">30</text>
<text x="1558.2" y="2888.7" text-anchor="middle" class="ls">40</text>
<text x="1873.1" y="2888.7" text-anchor="middle" class="ls">50</text>
<text x="2188.0" y="2888.7" text-anchor="middle" class="ls">60</text>
<text x="1093.8" y="3023.5"><tspan letter-spacing="-3.3">Time</tspan><tspan letter-spacing="4.1"> </tspan><tspan letter-spacing="-1.4">(min.)</tspan></text>
<text class="ls" text-anchor="middle" transform="translate(71.8,2243) rotate(-90)">AU</text>
<text x="2140.6" y="1743.9" text-anchor="middle">B</text>
<text x="1446.0" y="1846.8" text-anchor="middle">8</text>
<text x="764.8" y="2714.0" text-anchor="middle">2</text>
<text x="823.4" y="2713.0" text-anchor="middle">3</text>
</g>
</svg>
</body>
</html>
